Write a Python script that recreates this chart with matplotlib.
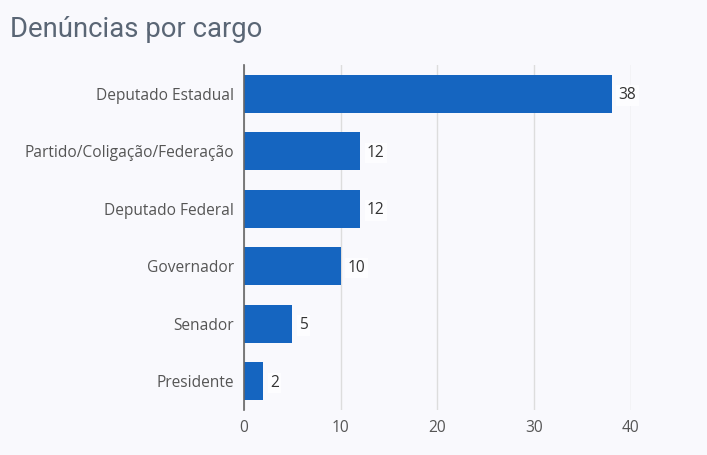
import matplotlib
matplotlib.use("Agg")
import matplotlib.pyplot as plt

categories = [
    "Deputado Estadual",
    "Partido/Coligação/Federação",
    "Deputado Federal",
    "Governador",
    "Senador",
    "Presidente",
]
counts = [38, 12, 12, 10, 5, 2]
x_ticks = [0, 10, 20, 30, 40]

bg = "#f9f9fd"
fig = plt.figure(figsize=(7.07, 4.55), dpi=100, facecolor=bg)
ax = fig.add_axes([0.345, 0.099, 0.5475, 0.758], facecolor=bg)

y = list(range(len(categories)))
bars = ax.barh(y, counts, height=0.66, color="#1565c0", zorder=3)
ax.set_ylim(len(categories) - 0.5, -0.5)
ax.set_xlim(0, 40)
ax.set_yticks(y)
ax.set_yticklabels(categories, fontsize=11.2, color="#555555", family="Open Sans")
ax.set_xticks(x_ticks)
ax.set_xticklabels([str(t) for t in x_ticks], fontsize=11.2, color="#555555",
                   family="Open Sans")
ax.tick_params(axis="y", length=0, pad=7)
ax.tick_params(axis="x", length=0, pad=7)
ax.grid(axis="x", color="#dddddd", linewidth=1, zorder=0)
for side in ("top", "right", "bottom"):
    ax.spines[side].set_visible(False)
ax.spines["left"].set_color("#666666")
ax.spines["left"].set_linewidth(1.2)
ax.spines["left"].set_zorder(4)

for rect, val in zip(bars, counts):
    ax.annotate(str(val), (rect.get_width(), rect.get_y() + rect.get_height() / 2),
                xytext=(5, -1.2), textcoords="offset points", va="center", ha="left",
                fontsize=11.2, color="#333333", family="Open Sans", zorder=5,
                bbox=dict(boxstyle="square,pad=0.15", fc="#fdfdff", ec="none"),
                annotation_clip=False)

fig.text(0.014, 0.935, "Denúncias por cargo", fontsize=19.8, color="#5a6675",
         family="Roboto", va="center", ha="left")

fig.savefig("out.png", dpi=100, facecolor=bg)
